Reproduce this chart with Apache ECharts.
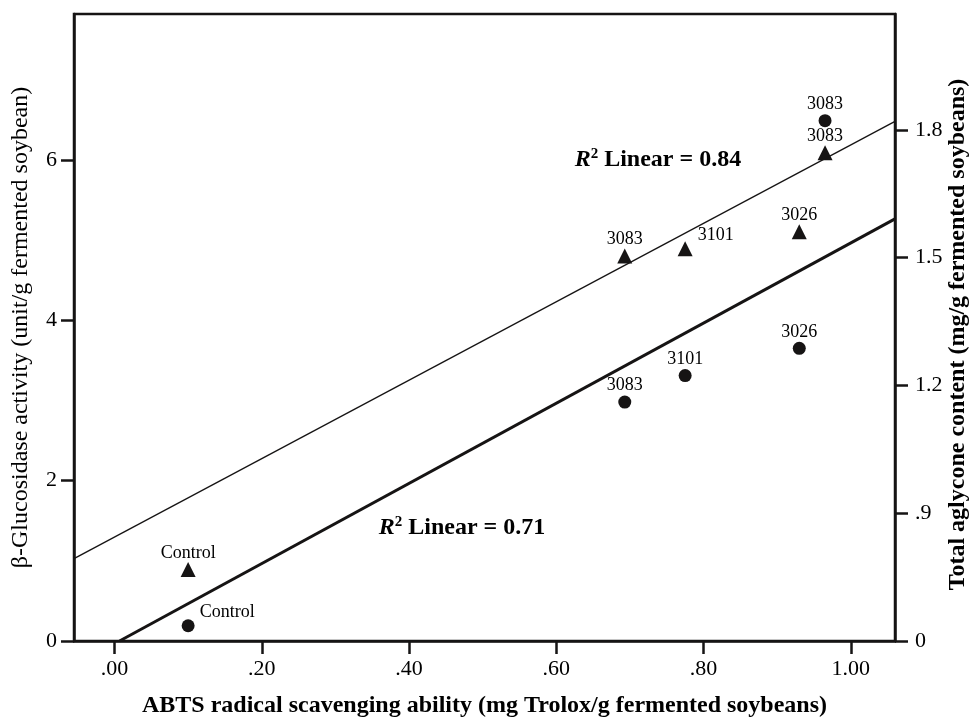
<!DOCTYPE html>
<html>
<head>
<meta charset="utf-8">
<script src="https://cdn.jsdelivr.net/npm/echarts@6/dist/echarts.min.js"></script>
<style>html,body{margin:0;padding:0;background:#fff}#c{width:977px;height:723px}</style>
</head>
<body>
<div id="c"></div>
<script>
// ---- data ----
const xTicks = [0, 0.2, 0.4, 0.6, 0.8, 1.0];
const xTickLabels = ['.00', '.20', '.40', '.60', '.80', '1.00'];
const leftTicks = [0, 2, 4, 6];
const leftTickLabels = ['0', '2', '4', '6'];
const rightTicks = [0.6, 0.9, 1.2, 1.5, 1.8];
const rightTickLabels = ['0', '.9', '1.2', '1.5', '1.8'];

const strains = ['Control', '3083', '3101', '3026', '3083'];
const abts = [0.10, 0.693, 0.775, 0.930, 0.965];
const glucosidase = [0.19, 2.98, 3.31, 3.65, 6.49];
const aglycone = [0.768, 1.504, 1.521, 1.561, 1.746];

const fitThinX = [-0.055, 1.06];
const fitThinY = [1.027, 6.48];
const fitThickX = [0.0068, 1.06];
const fitThickY = [0, 5.264];

const annoText = ['0.84', '0.71'];
const annoX = [0.738, 0.472];
const annoY = [6.0, 1.41];

// ---- chart ----
const ink = '#000';
const lineInk = '#161414';
const serif = '"Liberation Serif", "DejaVu Serif", serif';
function lookup(ticks, labels, v) {
  let best = 0, d = Infinity;
  ticks.forEach((t, i) => { if (Math.abs(t - v) < d) { d = Math.abs(t - v); best = i; } });
  return labels[best];
}

const circleLabelPos = ['right', 'top', 'top', 'top', 'top'];
const triLabelPos = ['top', 'top', 'right', 'top', 'top'];

const circleData = abts.map((x, i) => ({
  value: [x, glucosidase[i]], name: strains[i],
  label: circleLabelPos[i] === 'right' ? { position: 'right', offset: [0, -14] } : { position: 'top', distance: 1 }
}));
const triData = abts.map((x, i) => ({
  value: [x, aglycone[i]], name: strains[i],
  label: triLabelPos[i] === 'right' ? { position: 'right', offset: [0, -13] } : { position: 'top', distance: 0 }
}));

const ptLabel = { show: true, formatter: p => p.name, color: ink, opacity: 1, fontFamily: serif, fontSize: 18 };
const axLine = { show: true, onZero: false, lineStyle: { color: lineInk, width: 2.5 } };

const chart = echarts.init(document.getElementById('c'));
chart.setOption({
  animation: false,
  backgroundColor: '#fff',
  grid: { left: 74, right: 82, top: 14, bottom: 82, outerBoundsMode: 'none', containLabel: false,
          show: true, borderColor: lineInk, borderWidth: 2.5, backgroundColor: 'transparent' },
  xAxis: {
    type: 'value', min: -0.055, max: 1.06,
    axisLine: axLine,
    axisTick: { show: true, customValues: xTicks, length: 13, lineStyle: { color: lineInk, width: 2.5 } },
    axisLabel: { customValues: xTicks, formatter: v => lookup(xTicks, xTickLabels, v), color: ink, fontFamily: serif, fontSize: 22, margin: 17 },
    splitLine: { show: false },
    name: 'ABTS radical scavenging ability (mg Trolox/g fermented soybeans)',
    nameLocation: 'middle', nameGap: 53, nameMoveOverlap: false,
    nameTextStyle: { color: ink, fontFamily: serif, fontWeight: 'bold', fontSize: 24 }
  },
  yAxis: [{
    type: 'value', min: 0, max: 7.82, position: 'left',
    axisLine: axLine,
    axisTick: { show: true, customValues: leftTicks, length: 13, lineStyle: { color: lineInk, width: 2.5 } },
    axisLabel: { customValues: leftTicks, formatter: v => lookup(leftTicks, leftTickLabels, v), color: ink, fontFamily: serif, fontSize: 22, margin: 17 },
    splitLine: { show: false },
    name: 'β-Glucosidase activity (unit/g fermented soybean)',
    nameLocation: 'middle', nameGap: 41, nameRotate: 90, nameMoveOverlap: false,
    nameTextStyle: { color: ink, fontFamily: serif, fontSize: 24 }
  }, {
    type: 'value', min: 0.6, max: 2.072, position: 'right',
    axisLine: axLine,
    axisTick: { show: true, customValues: rightTicks, length: 13, lineStyle: { color: lineInk, width: 2.5 } },
    axisLabel: { customValues: rightTicks, formatter: v => lookup(rightTicks, rightTickLabels, v), color: ink, fontFamily: serif, fontSize: 22, margin: 20 },
    splitLine: { show: false },
    name: 'Total aglycone content (mg/g fermented soybeans)',
    nameLocation: 'middle', nameGap: 51, nameRotate: 90, nameMoveOverlap: false,
    nameTextStyle: { color: ink, fontFamily: serif, fontWeight: 'bold', fontSize: 24, padding: [0, 14, 0, 0] }
  }],
  series: [
    {
      type: 'line', yAxisIndex: 0, symbol: 'none', silent: true,
      data: fitThinX.map((x, i) => [x, fitThinY[i]]),
      lineStyle: { color: lineInk, width: 1.3 }
    },
    {
      type: 'line', yAxisIndex: 0, symbol: 'none', silent: true,
      data: fitThickX.map((x, i) => [x, fitThickY[i]]),
      lineStyle: { color: lineInk, width: 3 }
    },
    {
      type: 'scatter', yAxisIndex: 0, symbol: 'circle', symbolSize: 13,
      itemStyle: { color: lineInk, opacity: 1 }, label: ptLabel, data: circleData
    },
    {
      type: 'scatter', yAxisIndex: 1, symbol: 'triangle', symbolSize: 15,
      itemStyle: { color: lineInk, opacity: 1 }, label: ptLabel, data: triData
    },
    {
      type: 'scatter', yAxisIndex: 0, symbolSize: 0, silent: true,
      itemStyle: { opacity: 1 },
      data: annoX.map((x, i) => ({ value: [x, annoY[i]], name: annoText[i] })),
      label: {
        show: true, position: 'inside', align: 'center', verticalAlign: 'middle',
        formatter: p => '{r|R}{s|2}{t| Linear = ' + p.name + '}',
        rich: {
          r: { fontFamily: serif, fontStyle: 'italic', fontWeight: 'bold', fontSize: 24, color: ink },
          s: { fontFamily: serif, fontWeight: 'bold', fontSize: 15, color: ink, verticalAlign: 'top', lineHeight: 26 },
          t: { fontFamily: serif, fontWeight: 'bold', fontSize: 24, color: ink }
        }
      }
    }
  ]
});
</script>
</body>
</html>
